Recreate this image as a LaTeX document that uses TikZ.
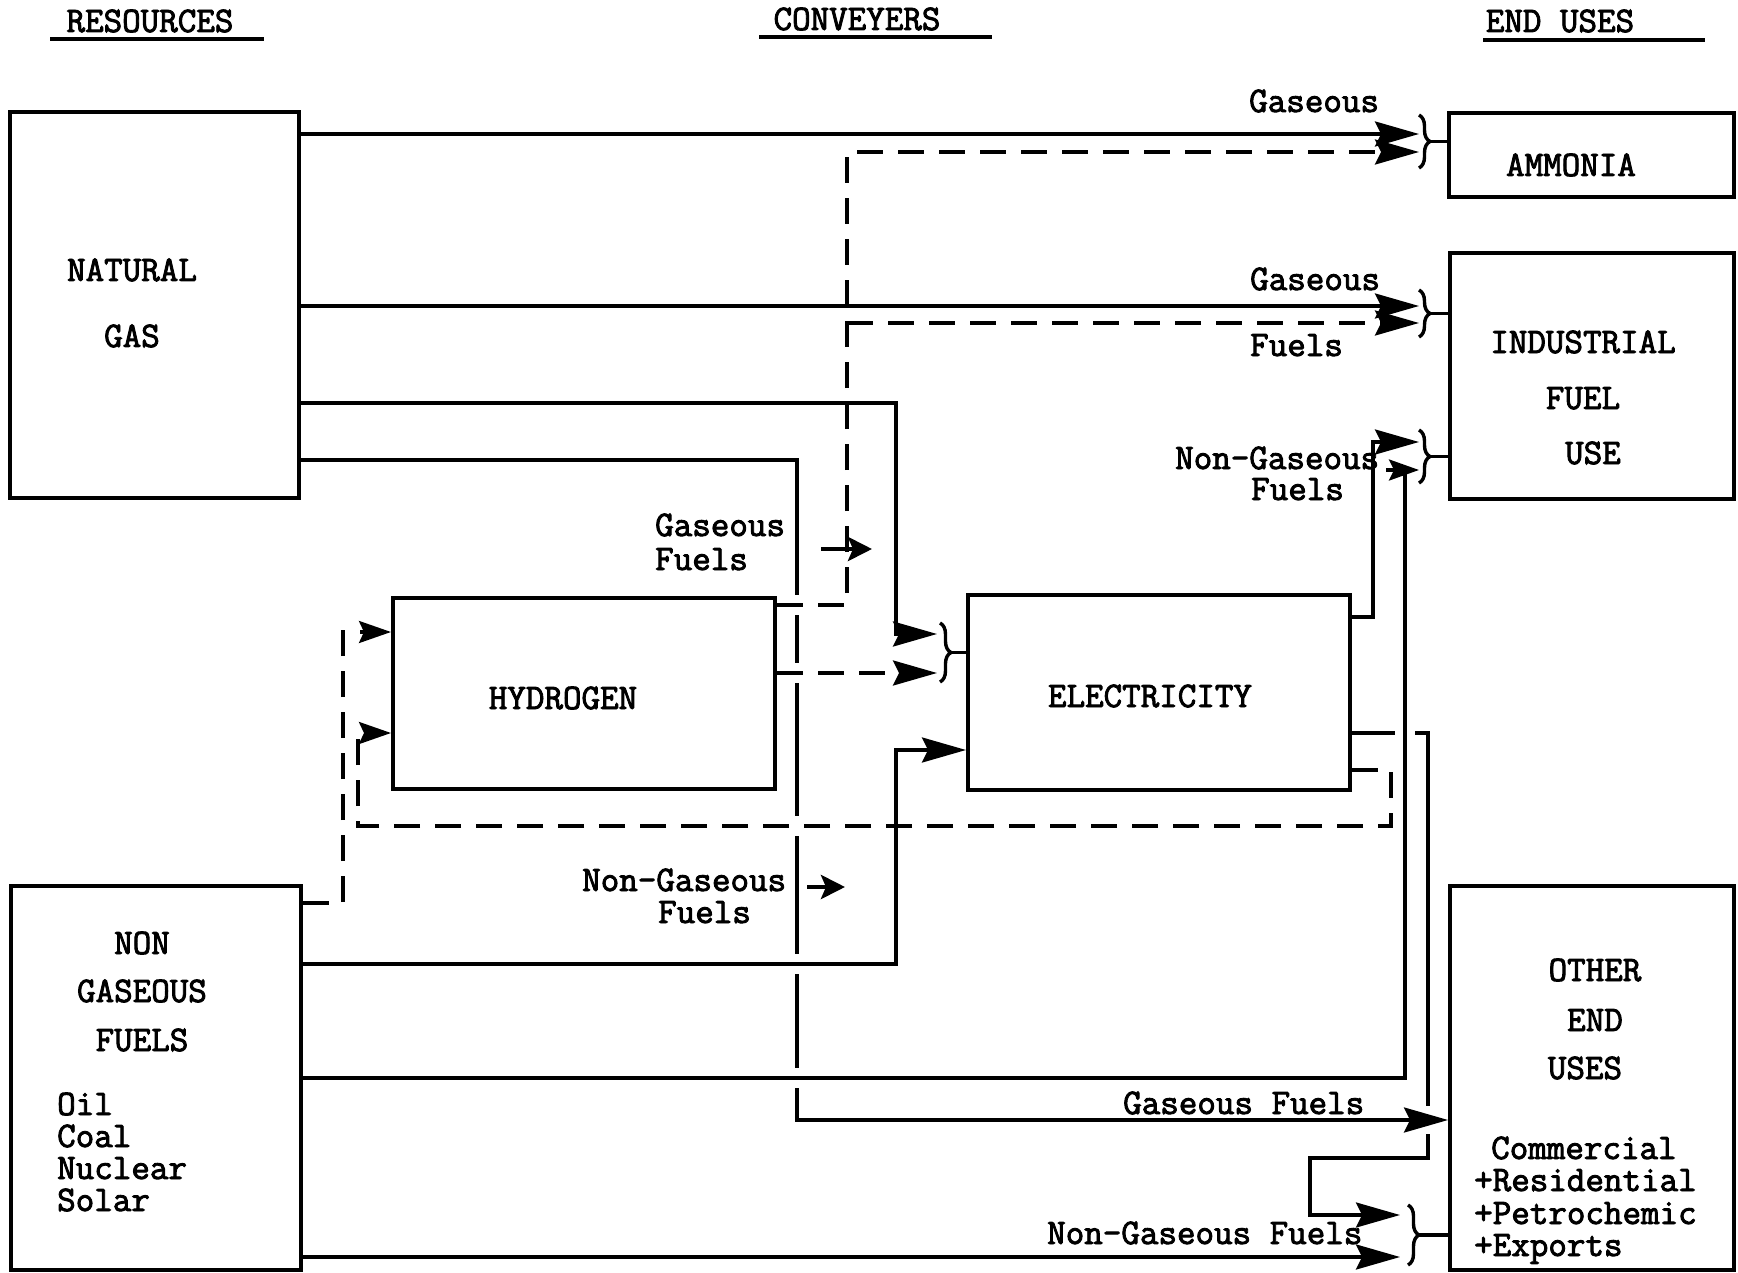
\documentclass[tikz,border=0pt]{standalone}
\usetikzlibrary{arrows.meta,decorations.pathreplacing,calc}
\newcommand\heavytext[1]{\special{pdf:literal direct 2 Tr 0.9 w}#1\special{pdf:literal direct 0 Tr}}
\begin{document}
\begin{tikzpicture}[x=1pt,y=-1pt,
  box/.style={draw, line width=4pt, inner sep=0pt},
  ln/.style={line width=3.2pt},
  dsh/.style={line width=3.2pt, dash pattern=on 26pt off 15pt},
  tip/.style={-{Stealth[length=44pt,width=25pt,inset=6pt]}},
  stip/.style={-{Stealth[length=32pt,width=22pt,inset=5pt]}},
  ftip/.style={-{Stealth[length=24pt,width=24pt,inset=5pt]}},
  txt/.style={inner sep=0pt, text height=22pt, text depth=0pt, font=\fontsize{36}{32}\selectfont\ttfamily},
  brc/.style={decorate, decoration={brace, amplitude=11pt}, line width=3.4pt}]
\useasboundingbox[fill=white] (0,0) rectangle (1738,1273);

% ---------- headers ----------
\node[txt] (hres) at (150,21) {\heavytext{RESOURCES}};
\node[txt] (hcon) at (857,19) {\heavytext{CONVEYERS}};
\node[txt] (hend) at (1560,21) {\heavytext{END USES}};
\draw[line width=3.2pt] (50,39) -- (264,39);
\draw[line width=3.2pt] (759,37) -- (992,37);
\draw[line width=3.2pt] (1483,40) -- (1705,40);

% ---------- boxes ----------
\node[box, minimum width=289pt, minimum height=386pt] (ng)  at (154.5,305) {};
\node[box, minimum width=290pt, minimum height=384pt] (ngf) at (156,1078) {};
\node[box, minimum width=382pt, minimum height=191pt] (hyd) at (584,693.5) {};
\node[box, minimum width=382pt, minimum height=195pt] (ele) at (1159,692.5) {};
\node[box, minimum width=285pt, minimum height=84pt]  (amm) at (1591.5,155) {};
\node[box, minimum width=284pt, minimum height=246pt] (ind) at (1592,376) {};
\node[box, minimum width=284pt, minimum height=384pt] (oth) at (1592,1078) {};

% ---------- box texts ----------
\node[txt] (t1) at (132,270) {\heavytext{NATURAL}};
\node[txt] (t2) at (132,336) {\heavytext{GAS}};
\node[txt] (t3) at (142,943) {\heavytext{NON}};
\node[txt] (t4) at (142,991) {\heavytext{GASEOUS}};
\node[txt] (t5) at (142,1040) {\heavytext{FUELS}};
\node[txt,anchor=west] (t6) at (57,1104) {\heavytext{Oil}};
\node[txt,anchor=west] (t7) at (57,1136) {\heavytext{Coal}};
\node[txt,anchor=west] (t8) at (57,1168) {\heavytext{Nuclear}};
\node[txt,anchor=west] (t9) at (57,1200) {\heavytext{Solar}};
\node[txt] (t10) at (563,698) {\heavytext{HYDROGEN}};
\node[txt] (t11) at (1150,696) {\heavytext{ELECTRICITY}};
\node[txt] (t12) at (1571,165) {\heavytext{AMMONIA}};
\node[txt] (t13) at (1583,342) {\heavytext{INDUSTRIAL}};
\node[txt] (t14) at (1583,398) {\heavytext{FUEL}};
\node[txt] (t15) at (1593,453) {\heavytext{USE}};
\node[txt] (t16) at (1595,970) {\heavytext{OTHER}};
\node[txt] (t17) at (1595,1020) {\heavytext{END}};
\node[txt] (t18) at (1585,1068) {\heavytext{USES}};
\node[txt,anchor=west] (t19) at (1491,1148) {\heavytext{Commercial}};
\node[txt,anchor=west] (t20) at (1474,1180) {\heavytext{+Residential}};
\node[txt,anchor=west] (t21) at (1474,1213) {\heavytext{+Petrochemic}};
\node[txt,anchor=west] (t22) at (1474,1245) {\heavytext{+Exports}};

% ---------- flow labels ----------
\node[txt,anchor=west] (l1) at (1249,101) {\heavytext{Gaseous}};
\node[txt,anchor=west] (l2) at (1250,279) {\heavytext{Gaseous}};
\node[txt,anchor=west] (l3) at (1250,345) {\heavytext{Fuels}};
\node[txt,anchor=west] (l4) at (1175,458) {\heavytext{Non-Gaseous}};
\node[txt,anchor=west] (l5) at (1251,489) {\heavytext{Fuels}};
\node[txt,anchor=west] (l6) at (655,525) {\heavytext{Gaseous}};
\node[txt,anchor=west] (l7) at (655,559) {\heavytext{Fuels}};
\node[txt,anchor=west] (l8) at (582,880) {\heavytext{Non-Gaseous}};
\node[txt,anchor=west] (l9) at (658,912) {\heavytext{Fuels}};
\node[txt,anchor=west] (l10) at (1123,1103) {\heavytext{Gaseous Fuels}};
\node[txt,anchor=west] (l11) at (1047,1233) {\heavytext{Non-Gaseous Fuels}};

% ---------- arrow end points ----------
\coordinate (ammA) at (1419,134);
\coordinate (ammB) at (1419,152);
\coordinate (indA) at (1419,306);
\coordinate (indB) at (1419,323);
\coordinate (indC) at (1419,442);
\coordinate (indD) at (1419,470);
\coordinate (eleA) at (937,634);
\coordinate (eleB) at (937,673);
\coordinate (hydA) at (hyd.west |- 0,632);
\coordinate (hydB) at (hyd.west |- 0,733);
\coordinate (othB) at (1400,1215);
\coordinate (othC) at (1400,1257);

% ---------- solid connectors ----------
\draw[ln,tip] (ng.east |- ammA) -- (ammA);
\draw[ln,tip] (ng.east |- indA) -- (indA);
\draw[ln,tip] (ng.east |- 0,403) -- (896,403) -- (896,634) -- (eleA);
\draw[ln] (ng.east |- 0,460) -- (797,460) -- (797,595);
\draw[ln] (797,615) -- (797,663);
\draw[ln] (797,683) -- (797,816);
\draw[ln] (797,836) -- (797,954);
\draw[ln] (797,974) -- (797,1068);
\draw[ln,tip] (797,1088) -- (797,1120) -- (oth.west |- 0,1120);

\draw[ln,tip] (ngf.east |- 0,964) -- (896,964) -- (896,750) -- (ele.west |- 0,750);
\draw[ln] (ngf.east |- 0,1078) -- (1405,1078) -- (1405,470);
\draw[ln,-{Stealth[length=30pt,width=21pt,inset=5pt]}] (1386,470) -- (indD);
\draw[ln,tip] (ngf.east |- othC) -- (othC);

\draw[ln,tip] (ele.east |- 0,617) -- (1373,617) -- (1373,442) -- (indC);
\draw[ln] (ele.east |- 0,733) -- (1395,733);
\draw[ln] (1415,733) -- (1428,733) -- (1428,1106);
\draw[ln,tip] (1428,1134) -- (1428,1158) -- (1310,1158) -- (1310,1215) -- (othB);

% ---------- dashed connectors ----------
\draw[dsh,stip] (ngf.east |- 0,903) -- (343,903) -- (343,632) -- (hydA);
\draw[dsh,stip] (ele.east |- 0,770) -- (1391,770) -- (1391,826) -- (358,826) -- (358,733) -- (hydB);
\draw[dsh,tip] (hyd.east |- eleB) -- (eleB);
\draw[dsh,tip] (hyd.east |- 0,605) -- (847,605) -- (847,152) -- (ammB);
\draw[dsh,tip] (847,323) -- (indB);

% ---------- direction markers ----------
\coordinate (m1a) at (821,549);
\coordinate (m1b) at (872,549);
\coordinate (m2a) at (807,887);
\coordinate (m2b) at (845,887);
\draw[line width=4.5pt,ftip] (m1a) -- (m1b);
\draw[line width=4.5pt,ftip] (m2a) -- (m2b);

% ---------- braces ----------
\draw[brc] (1419,115) -- (1419,168);
\draw[ln] (1430,141.5) -- (amm.west |- 0,141.5);
\draw[brc] (1419,290) -- (1419,337);
\draw[ln] (1430,313.5) -- (ind.west |- 0,313.5);
\draw[brc] (1419,430) -- (1419,483);
\draw[ln] (1430,456.5) -- (ind.west |- 0,456.5);
\draw[brc] (940,623) -- (940,682);
\draw[ln] (951,652.5) -- (ele.west |- 0,652.5);
\draw[brc] (1408,1205) -- (1408,1265);
\draw[ln] (1419,1235) -- (oth.west |- 0,1235);
\end{tikzpicture}
\end{document}
